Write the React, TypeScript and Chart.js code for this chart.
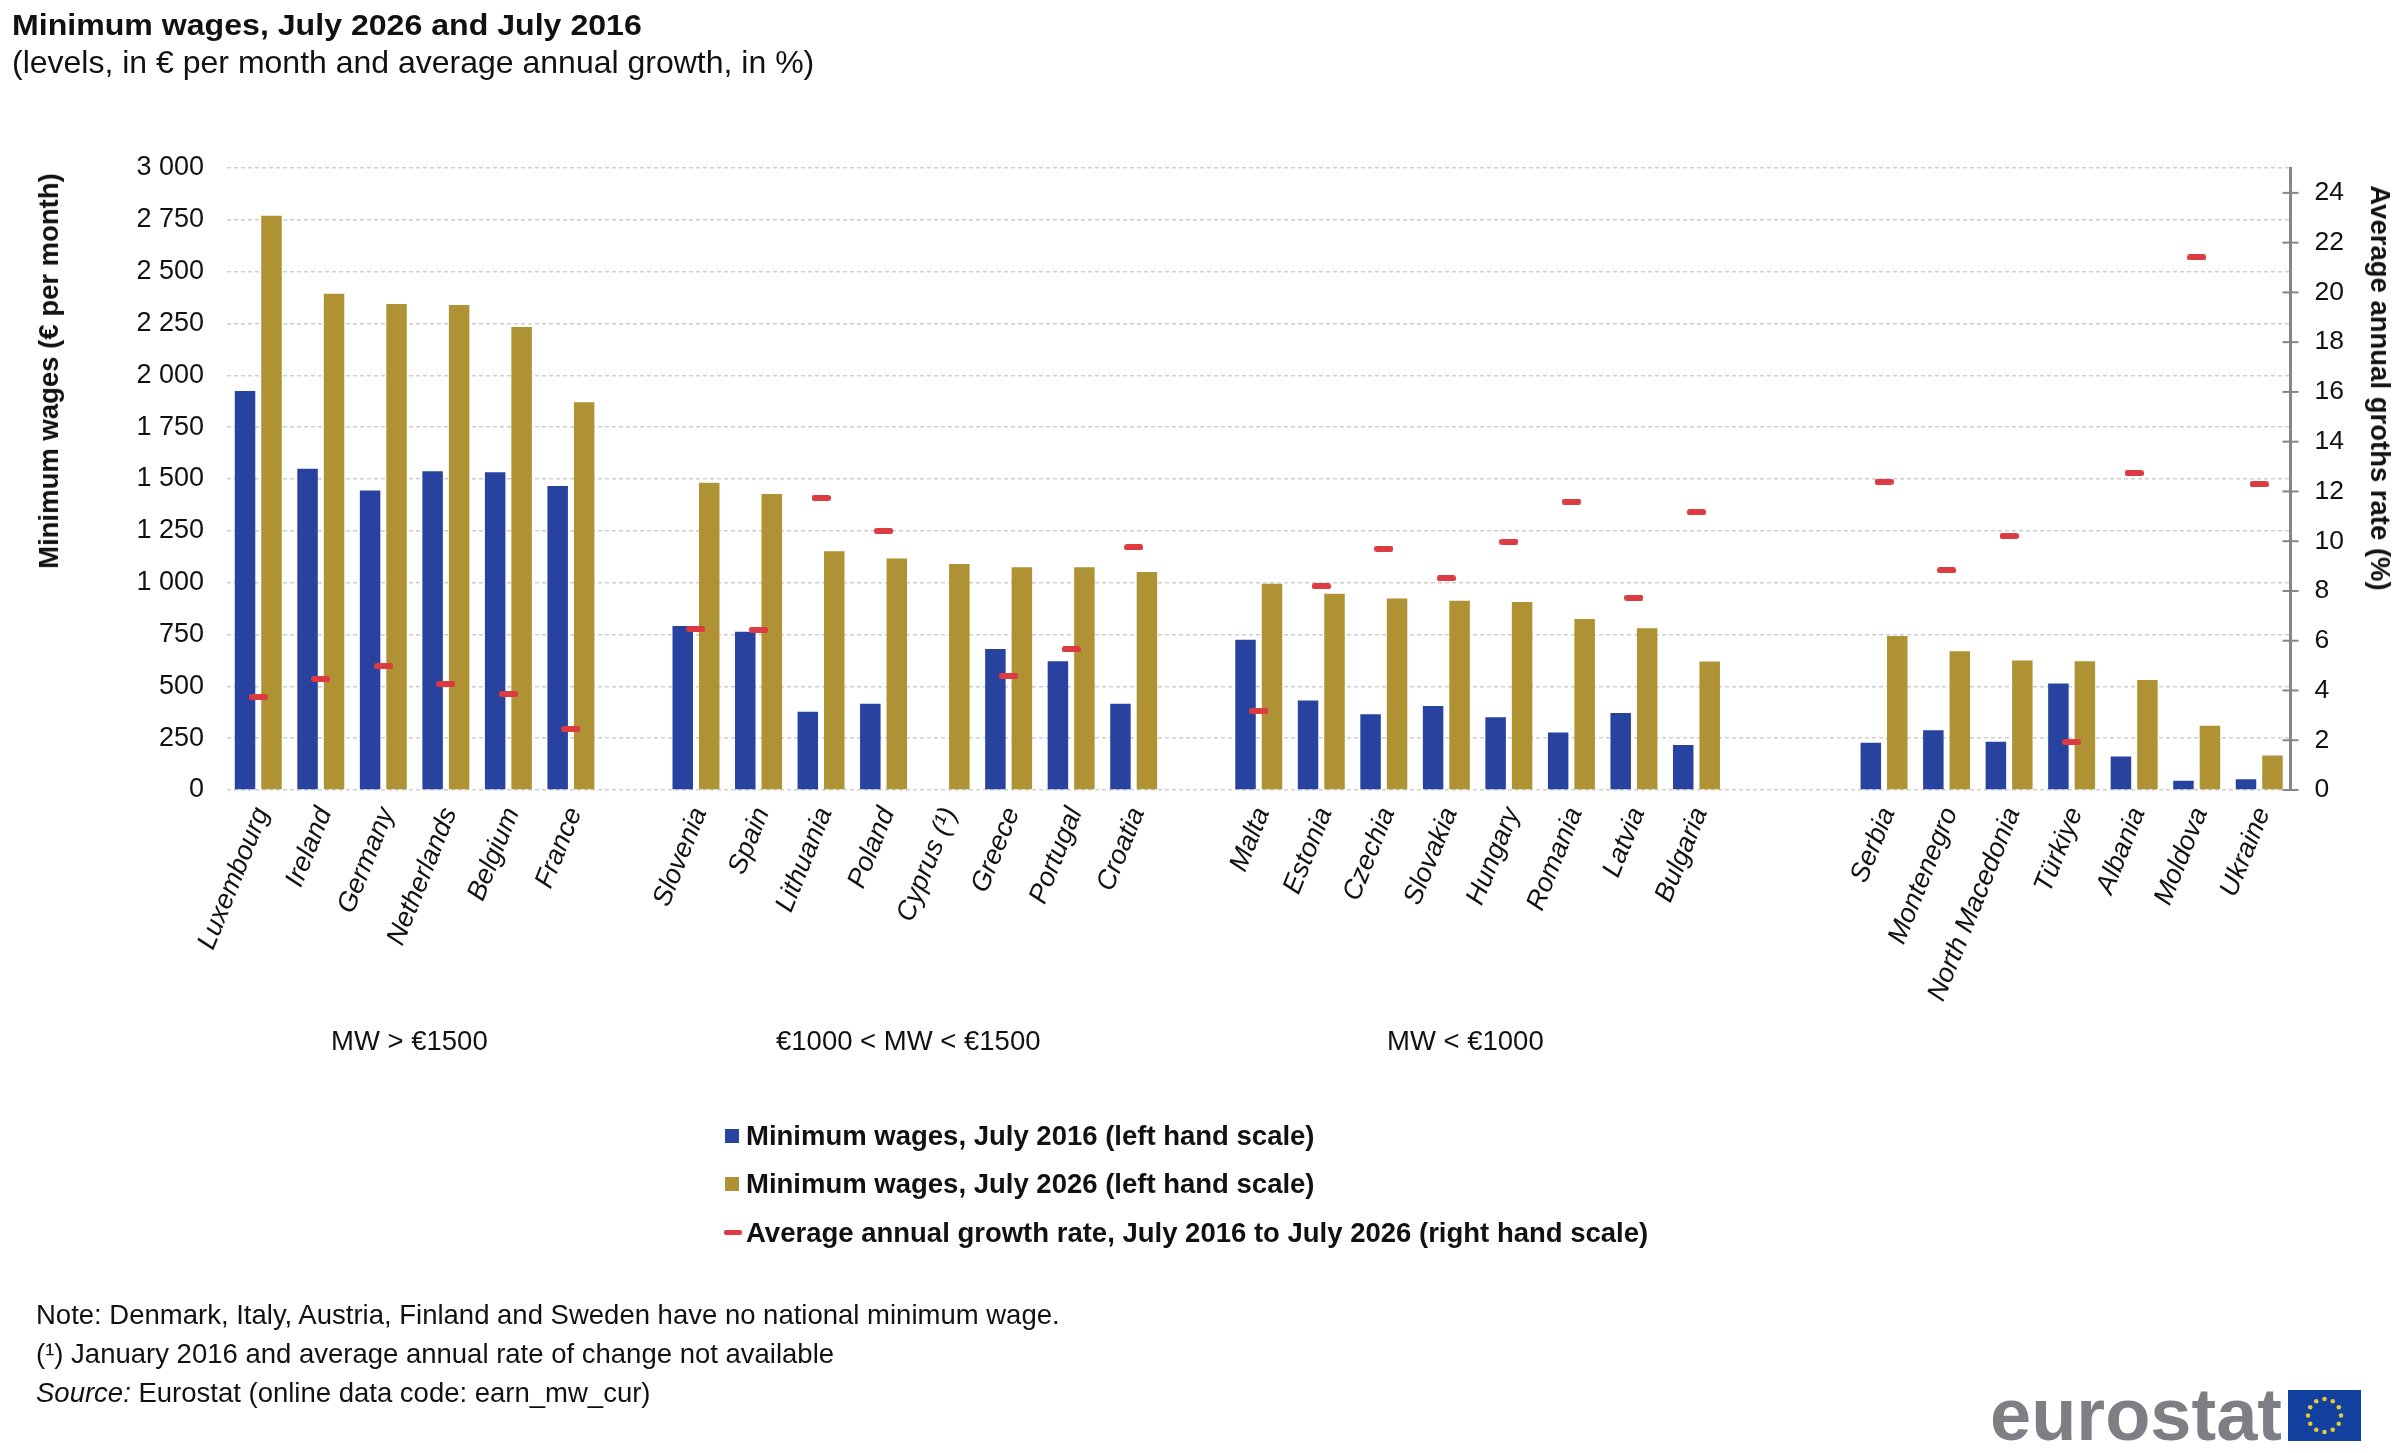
import React, { useRef, useEffect } from 'react';
import { Chart, registerables } from 'chart.js';

Chart.register(...registerables);

const FONT = '"Liberation Sans", Arial, sans-serif';

// blank labels are the gaps between the wage groups
const countries = [
  'Luxembourg', 'Ireland', 'Germany', 'Netherlands', 'Belgium', 'France', '',
  'Slovenia', 'Spain', 'Lithuania', 'Poland', 'Cyprus (¹)', 'Greece', 'Portugal', 'Croatia', '',
  'Malta', 'Estonia', 'Czechia', 'Slovakia', 'Hungary', 'Romania', 'Latvia', 'Bulgaria', '', '',
  'Serbia', 'Montenegro', 'North Macedonia', 'Türkiye', 'Albania', 'Moldova', 'Ukraine',
];

const wages2016 = [
  1924, 1550, 1444, 1537, 1532, 1466, null,
  791, 763, 378, 416, null, 680, 621, 416, null,
  725, 432, 365, 405, 351, 277, 371, 217, null, null,
  228, 288, 233, 514, 161, 45, 52,
];

const wages2026 = [
  2770, 2394, 2344, 2339, 2233, 1870, null,
  1482, 1428, 1151, 1117, 1090, 1074, 1074, 1051, null,
  995, 947, 924, 913, 907, 825, 780, 620, null, null,
  743, 669, 625, 621, 531, 310, 167,
];

const growthRate = [
  3.73, 4.46, 4.97, 4.27, 3.86, 2.44, null,
  6.48, 6.44, 11.74, 10.41, null, 4.59, 5.65, 9.75, null,
  3.18, 8.19, 9.7, 8.51, 9.98, 11.59, 7.73, 11.17, null, null,
  12.39, 8.83, 10.21, 1.92, 12.74, 21.41, 12.29,
];

const BLUE = '#27439F';
const GOLD = '#AE9234';
const RED = '#DD3B42';

// right axis crosses its ticks through the axis line
const crossTicks = {
  id: 'crossTicks',
  afterDraw(chart: any) {
    const { ctx } = chart;
    const scale = chart.scales.y1;
    ctx.save();
    ctx.strokeStyle = '#868686';
    ctx.lineWidth = 2;
    scale.ticks.forEach((t: any) => {
      const y = scale.getPixelForValue(t.value);
      ctx.beginPath();
      ctx.moveTo(scale.left - 8, y);
      ctx.lineTo(scale.left + 8, y);
      ctx.stroke();
    });
    ctx.restore();
  },
};

function makeDash() {
  const c = document.createElement('canvas');
  c.width = 19;
  c.height = 6;
  const g = c.getContext('2d');
  g.fillStyle = RED;
  g.beginPath();
  g.roundRect(0, 0, 19, 6, 2.5);
  g.fill();
  return c;
}

function Text({ x, y, size = 27.5, bold = false, children, style }: any) {
  return (
    <div
      style={{
        position: 'absolute', left: x, top: y, transform: 'translateY(-50%)', transformOrigin: 'left center', whiteSpace: 'pre',
        fontFamily: FONT, fontSize: size, fontWeight: bold ? 'bold' : 'normal', color: '#111', ...style,
      }}
    >
      {children}
    </div>
  );
}

function Flag() {
  const stars = Array.from({ length: 12 }, (_, i) => {
    const a = (i * Math.PI) / 6;
    return <circle key={i} cx={36.5 + 16.5 * Math.sin(a)} cy={25.5 - 16.5 * Math.cos(a)} r={2.3} fill="#E3C83C" />;
  });
  return (
    <svg width={73} height={51} style={{ position: 'absolute', left: 2288, top: 1390 }}>
      <rect width={73} height={51} fill="#12409E" />
      {stars}
    </svg>
  );
}

export default function App() {
  const chartRef = useRef(null);

  useEffect(() => {
    document.body.style.margin = '0';
    const chart = new Chart(chartRef.current, {
      type: 'bar',
      plugins: [crossTicks],
      data: {
        labels: countries,
        datasets: [
          { type: 'line', label: 'Average annual growth rate, July 2016 to July 2026 (right hand scale)', data: growthRate, yAxisID: 'y1', showLine: false, pointStyle: makeDash(), order: 0 },
          { label: 'Minimum wages, July 2016 (left hand scale)', data: wages2016, backgroundColor: BLUE, yAxisID: 'y', order: 1, barPercentage: 0.774, categoryPercentage: 0.847 },
          { label: 'Minimum wages, July 2026 (left hand scale)', data: wages2026, backgroundColor: GOLD, yAxisID: 'y', order: 1, barPercentage: 0.774, categoryPercentage: 0.847 },
        ],
      } as any,
      options: {
        responsive: false,
        animation: false,
        devicePixelRatio: 1,
        layout: { padding: { top: 168 } },
        plugins: { legend: { display: false }, tooltip: { enabled: false } },
        scales: {
          x: {
            grid: { display: false },
            border: { display: false },
            afterFit: (s: any) => { s.height = 663; },
            ticks: {
              autoSkip: false, minRotation: 68, maxRotation: 68, padding: 5, labelOffset: 4, color: '#111',
              font: { family: FONT, size: 27, style: 'italic' },
            },
          },
          y: {
            min: 0, max: 3000,
            afterFit: (s: any) => { s.width = 227; },
            grid: { color: '#CFCFCF', lineWidth: 1.5, drawTicks: false },
            border: { display: false, dash: [4, 3] },
            ticks: {
              stepSize: 250, padding: 23, color: '#111',
              font: { family: FONT, size: 27 },
              callback: (v: any) => String(v).replace(/\B(?=(\d{3})+$)/g, ' '),
            },
          },
          y1: {
            position: 'right',
            min: 0, max: 25,
            afterFit: (s: any) => { s.width = 109.5; },
            grid: { drawOnChartArea: false, drawTicks: false },
            border: { display: true, color: '#868686', width: 3 },
            ticks: { stepSize: 2, includeBounds: false, padding: 24, color: '#111', font: { family: FONT, size: 26.5 } },
          },
        },
      } as any,
    });
    return () => chart.destroy();
  }, []);

  return (
    <div style={{ position: 'relative', width: 2400, height: 1453, background: '#fff', overflow: 'hidden' }}>
      <canvas ref={chartRef} width={2400} height={1453} style={{ display: 'block' }} />

      <Text x={12} y={25} size={30} bold style={{ transform: 'translateY(-50%) scaleX(1.07)' }}>Minimum wages, July 2026 and July 2016</Text>
      <Text x={12} y={62} size={32}>(levels, in € per month and average annual growth, in %)</Text>

      <Text x={49} y={371} bold style={{ transform: 'translate(-50%, -50%) rotate(-90deg)', transformOrigin: 'center' }}>Minimum wages (€ per month)</Text>
      <Text x={2380} y={388} bold style={{ transform: 'translate(-50%, -50%) rotate(90deg)', transformOrigin: 'center' }}>Average annual groths rate (%)</Text>

      <Text x={331} y={1041}>MW &gt; €1500</Text>
      <Text x={776} y={1041}>€1000 &lt; MW &lt; €1500</Text>
      <Text x={1387} y={1041}>MW &lt; €1000</Text>

      <div style={{ position: 'absolute', left: 725, top: 1129, width: 14, height: 14, background: BLUE }} />
      <Text x={746} y={1136} bold>Minimum wages, July 2016 (left hand scale)</Text>
      <div style={{ position: 'absolute', left: 725, top: 1177, width: 14, height: 14, background: GOLD }} />
      <Text x={746} y={1184} bold>Minimum wages, July 2026 (left hand scale)</Text>
      <div style={{ position: 'absolute', left: 724, top: 1230, width: 18, height: 5, borderRadius: 2, background: RED }} />
      <Text x={746} y={1233} bold>Average annual growth rate, July 2016 to July 2026 (right hand scale)</Text>

      <Text x={36} y={1315}>Note: Denmark, Italy, Austria, Finland and Sweden have no national minimum wage.</Text>
      <Text x={36} y={1354}>(¹) January 2016 and average annual rate of change not available</Text>
      <Text x={36} y={1393}><i>Source:</i> Eurostat (online data code: earn_mw_cur)</Text>

      <Text x={1990} y={1414} size={74} bold style={{ color: '#7D7F84' }}>eurostat</Text>
      <Flag />
    </div>
  );
}
